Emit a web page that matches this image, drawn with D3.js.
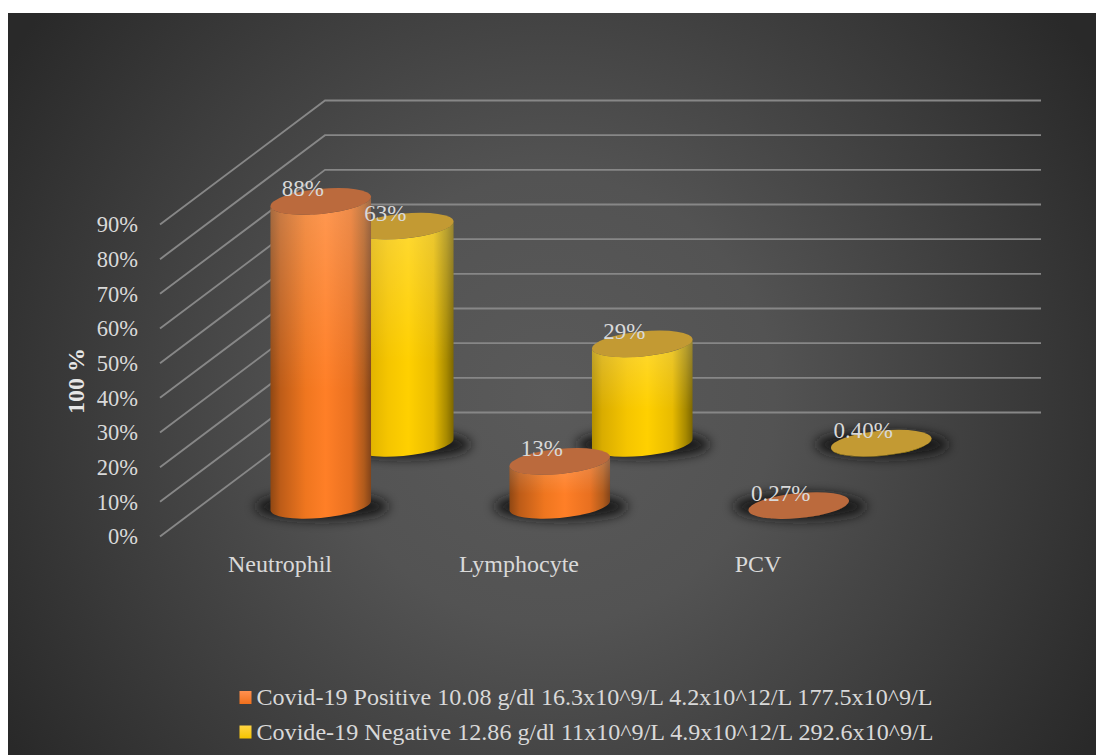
<!DOCTYPE html>
<meta charset="utf-8">
<style>
body { margin: 0; background: #fff; }
text { font-family: "Liberation Serif", serif; fill: #d9d9d9; }
.axis .domain { display: none; }
.axis text { font-family: "Liberation Serif", serif; font-size: 22.5px; fill: #d9d9d9; }
</style>
<body>
<script src="https://d3js.org/d3.v7.min.js"></script>
<script>
var categories = ['Neutrophil', 'Lymphocyte', 'PCV']
var seriesNames = ['Covid-19 Positive 10.08 g/dl 16.3x10^9/L 4.2x10^12/L 177.5x10^9/L',
    'Covide-19 Negative 12.86 g/dl 11x10^9/L 4.9x10^12/L 292.6x10^9/L']
var positive = [88, 13, 0.27]
var negative = [63, 29, 0.40]
var labelsPositive = ['88%', '13%', '0.27%']
var labelsNegative = ['63%', '29%', '0.40%']
var yTicks = [0, 10, 20, 30, 40, 50, 60, 70, 80, 90]

var W = 1096, H = 755
var depthX = 165, depthY = 124
var rx = 50.5, ry = 12.5, tilt = -5.5

var svg = d3.select('body').append('svg').attr('width', W).attr('height', H).style('display', 'block')
var defs = svg.append('defs')

// page-like panel with the dark radial fill
var bg = defs.append('radialGradient').attr('id', 'bg')
    .attr('gradientUnits', 'userSpaceOnUse')
    .attr('cx', 550).attr('cy', 400).attr('r', 640)
bg.append('stop').attr('offset', '0%').attr('stop-color', '#5a5a5a')
bg.append('stop').attr('offset', '35%').attr('stop-color', '#535353')
bg.append('stop').attr('offset', '100%').attr('stop-color', '#292929')

function hGrad(id, stops) {
    var g = defs.append('linearGradient').attr('id', id)
    stops.forEach(function (s) {
        g.append('stop').attr('offset', s[0]).attr('stop-color', s[1])
    })
}
hGrad('side0', [[0, '#8f4713'], [0.1, '#bd5c18'], [0.35, '#ef761f'], [0.55, '#ff7f27'], [0.8, '#e87020'], [0.93, '#b05b1c'], [1, '#82441a']])
hGrad('side1', [[0, '#b38f00'], [0.1, '#d9ac00'], [0.35, '#f5c500'], [0.55, '#ffd000'], [0.8, '#e8bb00'], [0.93, '#a88a00'], [1, '#7d6700']])

var shine = defs.append('linearGradient').attr('id', 'shine').attr('x1', 0).attr('x2', 0).attr('y1', 0).attr('y2', 1)
shine.append('stop').attr('offset', '0%').attr('stop-color', '#fff').attr('stop-opacity', 0.2)
shine.append('stop').attr('offset', '60%').attr('stop-color', '#fff').attr('stop-opacity', 0)

var sw0 = defs.append('linearGradient').attr('id', 'sw0').attr('x1', 0).attr('x2', 0).attr('y1', 0).attr('y2', 1)
sw0.append('stop').attr('offset', '0%').attr('stop-color', '#ff9050')
sw0.append('stop').attr('offset', '100%').attr('stop-color', '#f0701c')
var sw1 = defs.append('linearGradient').attr('id', 'sw1').attr('x1', 0).attr('x2', 0).attr('y1', 0).attr('y2', 1)
sw1.append('stop').attr('offset', '0%').attr('stop-color', '#ffd544')
sw1.append('stop').attr('offset', '100%').attr('stop-color', '#f5c400')

defs.append('filter').attr('id', 'blur').attr('x', '-30%').attr('y', '-120%').attr('width', '160%').attr('height', '340%')
    .append('feGaussianBlur').attr('stdDeviation', 6)

svg.append('rect').attr('x', 8).attr('y', 13).attr('width', W - 8).attr('height', H - 13).attr('fill', 'url(#bg)')

var x = d3.scaleBand().domain(categories).range([160, 877])
var y = d3.scaleLinear().domain([0, 90]).range([536.5, 224.5])
var z = d3.scaleBand().domain([0, 1]).range([0, 1])

// wall and floor lines
svg.append('g').selectAll('path').data(yTicks).enter().append('path')
    .attr('d', function (t) {
        var p = d3.path()
        p.moveTo(160, y(t))
        p.lineTo(160 + depthX, y(t) - depthY)
        p.lineTo(x.range()[1] + depthX - 1, y(t) - depthY)
        return p.toString()
    })
    .attr('fill', 'none').attr('stroke', '#878787').attr('stroke-width', 1.9)

var yAxis = d3.axisLeft(y).tickValues(yTicks).tickSize(0).tickPadding(22)
    .tickFormat(function (d) { return d + '%' })
svg.append('g').attr('class', 'axis').attr('transform', 'translate(160,0)').call(yAxis)

svg.append('g').selectAll('text').data(categories).enter().append('text')
    .attr('x', function (c) { return x(c) + x.bandwidth() / 2 + 0.5 })
    .attr('y', 572).attr('text-anchor', 'middle').attr('font-size', 24)
    .text(function (c) { return c })

svg.append('text').attr('transform', 'translate(84,381) rotate(-90)')
    .attr('text-anchor', 'middle').attr('font-size', 24).attr('font-weight', 700).style('fill', '#e6e6e6')
    .text('100 %')

// floor position of one cylinder's base
function baseX(c, s) { return x(c) + x.bandwidth() / 2 + depthX * (z(s) + z.bandwidth() / 2) }
function baseY(s) { return y(0) - depthY * (z(s) + z.bandwidth() / 2) }

var t = tilt * Math.PI / 180
var dx = Math.sqrt(rx * rx * Math.cos(t) * Math.cos(t) + ry * ry * Math.sin(t) * Math.sin(t))
var dy = (rx * rx - ry * ry) * Math.sin(t) * Math.cos(t) / dx

function sidePath(cx, y0, y1) {
    return 'M' + (cx - dx) + ',' + (y1 - dy) +
        'L' + (cx - dx) + ',' + (y0 - dy) +
        'A' + rx + ',' + ry + ' ' + tilt + ' 0 0 ' + (cx + dx) + ',' + (y0 + dy) +
        'L' + (cx + dx) + ',' + (y1 + dy) +
        'A' + rx + ',' + ry + ' ' + tilt + ' 0 1 ' + (cx - dx) + ',' + (y1 - dy) + 'Z'
}

var bars = []
;[1, 0].forEach(function (s) {
    var vals = s === 0 ? positive : negative
    var labs = s === 0 ? labelsPositive : labelsNegative
    categories.forEach(function (c, i) {
        bars.push({ c: c, s: s, v: vals[i], label: labs[i] })
    })
})

var h = function (v) { return y(0) - y(v) }

// shadows first, back row then front row
var g = svg.append('g').selectAll('g').data(bars).enter().append('g')
g.append('ellipse')
    .attr('cx', function (d) { return baseX(d.c, d.s) + 1 })
    .attr('cy', function (d) { return baseY(d.s) + 1 })
    .attr('rx', rx + 16).attr('ry', ry + 1)
    .attr('fill', '#141414').attr('filter', 'url(#blur)')
g.append('path')
    .attr('d', function (d) { var b = baseY(d.s); return sidePath(baseX(d.c, d.s), b, b - h(d.v) + 1) })
    .attr('fill', function (d) { return 'url(#side' + d.s + ')' })
g.append('path')
    .attr('d', function (d) { var b = baseY(d.s); return sidePath(baseX(d.c, d.s), b, b - h(d.v) + 1) })
    .attr('fill', 'url(#shine)')
g.append('ellipse')
    .attr('transform', function (d) {
        return 'translate(' + baseX(d.c, d.s) + ',' + (baseY(d.s) - h(d.v) + 1) + ') rotate(' + tilt + ')'
    })
    .attr('rx', rx).attr('ry', ry)
    .attr('fill', function (d) { return d.s === 0 ? '#bb6a3d' : '#c39a33' })

// value labels go above every cylinder
svg.append('g').selectAll('text').data(bars).enter().append('text')
    .attr('x', function (d) { return baseX(d.c, d.s) - 18 })
    .attr('y', function (d) { return baseY(d.s) - h(d.v) - 4 })
    .attr('text-anchor', 'middle').attr('font-size', 23)
    .text(function (d) { return d.label })

var legend = svg.append('g').selectAll('g').data(seriesNames).enter().append('g')
    .attr('transform', function (d, i) { return 'translate(239.5,' + (691 + i * 34.5) + ')' })
legend.append('rect').attr('width', 12).attr('height', 13)
    .attr('fill', function (d, i) { return 'url(#sw' + i + ')' })
legend.append('text').attr('x', 17).attr('y', 14).attr('font-size', 24.1)
    .text(function (d) { return d })
</script>
</body>
